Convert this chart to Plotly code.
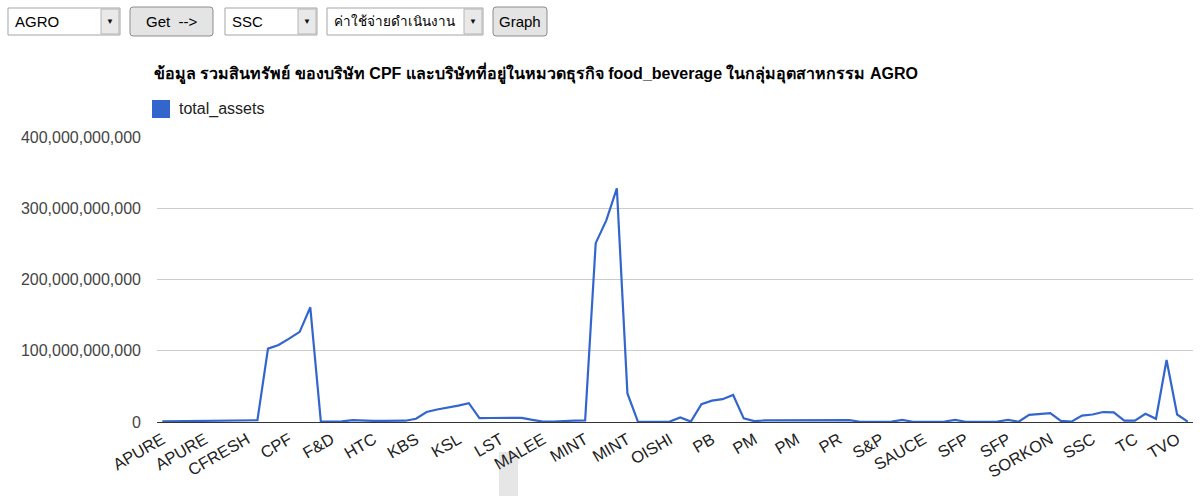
import plotly.graph_objects as go

# ---------------- data ----------------
tick_labels = ["APURE", "APURE", "CFRESH", "CPF", "F&D", "HTC", "KBS", "KSL", "LST",
               "MALEE", "MINT", "MINT", "OISHI", "PB", "PM", "PM", "PR", "S&P",
               "SAUCE", "SFP", "SFP", "SORKON", "SSC", "TC", "TVO"]

total_assets = [
    0.8e9, 0.9e9, 1.0e9, 1.1e9, 2.0e9, 2.2e9, 2.3e9, 2.4e9, 2.4e9, 2.5e9,
    103e9, 108e9, 117e9, 126.5e9, 161e9, 0.5e9, 0.6e9, 0.8e9, 2.5e9, 1.5e9,
    1.5e9, 1.6e9, 1.6e9, 1.8e9, 4.5e9, 14e9, 17.5e9, 20e9, 23e9, 26.5e9,
    5.5e9, 5.6e9, 5.6e9, 5.7e9, 5.8e9, 3.0e9, 0.5e9, 0.6e9, 1.8e9, 2.0e9,
    2.2e9, 251e9, 283e9, 328e9, 40e9, 0.3e9, 0.3e9, 0.3e9, 0.5e9, 6.5e9,
    0.5e9, 25e9, 30e9, 32e9, 38e9, 5e9, 1.2e9, 2.2e9, 2.2e9, 2.3e9,
    2.3e9, 2.4e9, 2.5e9, 2.5e9, 2.6e9, 2.6e9, 0.3e9, 0.3e9, 0.3e9, 0.5e9,
    3.0e9, 0.3e9, 0.3e9, 0.3e9, 0.5e9, 3.0e9, 0.3e9, 0.3e9, 0.3e9, 0.5e9,
    3.0e9, 0.3e9, 10e9, 11.5e9, 12.5e9, 1.5e9, 0.5e9, 9e9, 10.5e9, 14e9,
    13.5e9, 2e9, 2e9, 11.5e9, 4.5e9, 87e9, 10.5e9, 0.5e9,
]
row_index = list(range(len(total_assets)))
label_every = 4
tick_positions = row_index[::label_every]

y_ticks = [0, 100e9, 200e9, 300e9, 400e9]

title_text = ("ข้อมูล รวมสินทรัพย์ ของบริษัท CPF และบริษัทที่อยู่ในหมวดธุรกิจ "
              "food_beverage ในกลุ่มอุตสาหกรรม AGRO")
series_name = "total_assets"

# ---------------- layout helpers ----------------
W, H = 1200, 496


def px(x):
    return x / W


def py(y):
    return 1 - y / H


PLOT_L, PLOT_R, PLOT_T, PLOT_B = 157, 1193, 137, 422
LINE_COLOR = "#3366CC"
FONT = "Arial, Liberation Sans, sans-serif"

fig = go.Figure()
fig.add_trace(go.Scatter(
    x=row_index, y=total_assets, mode="lines", name=series_name,
    line=dict(color=LINE_COLOR, width=2.2), showlegend=False,
    hovertemplate="%{y:,}<extra></extra>",
))

shapes = []
annotations = []

# light grey artifact near the MALEE label
shapes.append(dict(type="rect", xref="paper", yref="paper",
                   x0=px(499), x1=px(518), y0=py(496), y1=py(452),
                   fillcolor="#e6e6e6", line=dict(width=0), layer="below"))


# ---------- form controls (top bar) ----------
def select_box(x0, x1, text, size=15):
    shapes.append(dict(type="rect", xref="paper", yref="paper",
                       x0=px(x0), x1=px(x1), y0=py(35), y1=py(8),
                       fillcolor="white", line=dict(color="#a5a5a5", width=1)))
    shapes.append(dict(type="rect", xref="paper", yref="paper",
                       x0=px(x1 - 19), x1=px(x1 - 1), y0=py(34), y1=py(9),
                       fillcolor="#e9e9e9", line=dict(color="#b5b5b5", width=1)))
    annotations.append(dict(xref="paper", yref="paper", x=px(x1 - 10), y=py(22),
                            text="▼", showarrow=False, xanchor="center", yanchor="middle",
                            font=dict(size=8, color="#111", family=FONT)))
    annotations.append(dict(xref="paper", yref="paper", x=px(x0 + 5), y=py(21.5),
                            text=text, showarrow=False, xanchor="left", yanchor="middle",
                            font=dict(size=size, color="#000", family=FONT)))


def button(x0, x1, text):
    r = 3
    y0, y1 = 7, 36
    path = (f"M {px(x0 + r)},{py(y0)} L {px(x1 - r)},{py(y0)} "
            f"Q {px(x1)},{py(y0)} {px(x1)},{py(y0 + r)} L {px(x1)},{py(y1 - r)} "
            f"Q {px(x1)},{py(y1)} {px(x1 - r)},{py(y1)} L {px(x0 + r)},{py(y1)} "
            f"Q {px(x0)},{py(y1)} {px(x0)},{py(y1 - r)} L {px(x0)},{py(y0 + r)} "
            f"Q {px(x0)},{py(y0)} {px(x0 + r)},{py(y0)} Z")
    shapes.append(dict(type="path", xref="paper", yref="paper", path=path,
                       fillcolor="#e4e4e4", line=dict(color="#8c8c8c", width=1)))
    annotations.append(dict(xref="paper", yref="paper", x=px((x0 + x1) / 2), y=py(21.5),
                            text=text, showarrow=False, xanchor="center", yanchor="middle",
                            font=dict(size=15, color="#000", family=FONT)))


select_box(8, 120, "AGRO")
button(130, 213, "Get&nbsp;&nbsp;--&gt;")
select_box(225, 317, "SSC")
select_box(327, 483, "ค่าใช้จ่ายดำเนินงาน", size=13.5)
button(493, 547, "Graph")

# ---------- chart title ----------
annotations.append(dict(xref="paper", yref="paper", x=px(152), y=py(73),
                        text=f"<b>{title_text}</b>", showarrow=False,
                        xanchor="left", yanchor="middle",
                        font=dict(size=16, color="#000", family=FONT)))

# ---------- legend ----------
shapes.append(dict(type="rect", xref="paper", yref="paper",
                   x0=px(152), x1=px(170), y0=py(118), y1=py(100),
                   fillcolor=LINE_COLOR, line=dict(width=0)))
annotations.append(dict(xref="paper", yref="paper", x=px(177), y=py(109.5),
                        text=series_name, showarrow=False,
                        xanchor="left", yanchor="middle",
                        font=dict(size=16, color="#222", family=FONT)))

fig.update_layout(
    width=W, height=H,
    margin=dict(l=0, r=0, t=0, b=0),
    paper_bgcolor="white", plot_bgcolor="white",
    font=dict(family=FONT),
    showlegend=False,
    shapes=shapes,
    annotations=annotations,
    xaxis=dict(
        domain=[px(PLOT_L), px(PLOT_R)],
        range=[-0.5, len(total_assets) - 0.5],
        tickvals=tick_positions, ticktext=tick_labels,
        tickangle=-30, showgrid=False, zeroline=False, showline=False,
        ticks="", automargin=False, ticklabelstandoff=4,
        tickfont=dict(size=16.5, color="#222", family=FONT),
    ),
    yaxis=dict(
        domain=[py(PLOT_B), py(PLOT_T)],
        range=[0, 400e9],
        tickvals=y_ticks, tickformat=",d",
        showgrid=True, gridcolor="#cccccc", gridwidth=1,
        zeroline=True, zerolinecolor="#333333", zerolinewidth=1,
        showline=False, ticks="", automargin=False,
        ticklabelstandoff=15,
        tickfont=dict(size=16, color="#444", family=FONT),
    ),
)

fig.write_html("out.html",
               config={"displayModeBar": False},
               post_script="document.body.style.margin='0';document.body.style.overflow='hidden';")
